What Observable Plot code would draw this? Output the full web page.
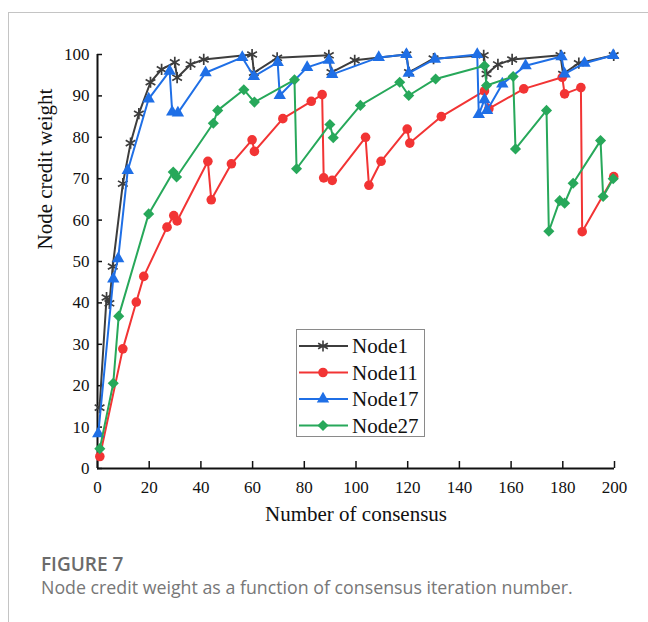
<!DOCTYPE html>
<html><head><meta charset="utf-8">
<script src="https://cdn.jsdelivr.net/npm/d3@7"></script>
<script src="https://cdn.jsdelivr.net/npm/@observablehq/plot@0.6"></script>
<style>
body{margin:0;background:#fff;}
#wrap{position:relative;width:648px;height:622px;overflow:hidden;background:#fff;}
#card{position:absolute;left:8px;top:12px;right:-2px;bottom:-2px;border-top:1px solid #c4c4c4;border-left:1px solid #c4c4c4;}
#chart{position:absolute;left:0;top:0;}
#legend{position:absolute;left:296px;top:329px;}
#fig{position:absolute;left:41px;top:551px;font-family:"Open Sans";font-weight:600;font-size:19px;color:#6b6b6b;}
#cap{position:absolute;left:41px;top:575px;font-family:"Open Sans";font-size:17.8px;color:#777;}
</style></head>
<body>
<div id="wrap">
<div id="card"></div>
<div id="chart"></div>
<div id="legend"></div>
<div id="fig">FIGURE 7</div>
<div id="cap">Node credit weight as a function of consensus iteration number.</div>
</div>
<script>
const seriesNames = ["Node1", "Node11", "Node17", "Node27"];
const node1X = [0.8,3.5,4.6,5.9,9.8,12.8,16,20.5,24.8,29.9,30.8,36,41.1,59.8,60.5,69.5,89.5,90.5,99.5,119.5,120.5,130,149.4,150.5,154.9,160.4,179.1,180.1,186.2,199.7];
const node1Y = [14.7,41.3,39.9,48.8,68.8,78.6,85.7,93.3,96.4,98.1,94.4,97.6,98.8,100,95.6,99.2,99.8,95.7,98.6,100,95.7,99,99.8,95.3,97.6,98.8,99.8,95.3,97.9,99.8];
const node11X = [0.9,9.8,15,17.9,26.9,29.5,30.8,42.7,44,51.8,59.8,60.7,71.7,82.7,86.9,87.5,90.8,103.7,105,109.7,119.8,120.8,133,149.7,151.4,164.9,179.8,180.7,187,187.5,199.7];
const node11Y = [2.9,28.9,40.2,46.4,58.3,61.1,59.8,74.2,64.9,73.6,79.4,76.6,84.5,88.7,90.3,70.2,69.6,80,68.4,74.2,82,78.6,85,91.2,86.9,91.7,94.5,90.5,92,57.2,70.5];
const node17X = [0.3,6.1,8,11.7,19.8,27.9,28.9,31.1,41.8,56,60.5,69.7,70.5,81.1,89.5,90.8,108.8,119.5,120.4,130.5,146.9,147.5,149.7,150.7,156.6,165.6,179.5,180.7,188.4,199.5];
const node17Y = [8.4,45.8,50.7,72,89.3,96,86.1,85.9,95.6,99.3,94.7,98.1,90.1,96.9,98.6,95.2,99.3,100,95.5,98.9,100,85.5,89.1,86.5,92.9,97.3,99.5,95.3,97.9,99.8];
const node27X = [0.9,6.1,8.2,19.8,29.3,30.6,44.8,46.5,56.6,60.7,76.2,77,89.9,91.2,101.7,116.9,120.4,130.8,149.7,150.5,160.8,161.7,173.7,174.6,178.8,180.7,184,194.6,195.6,199.5];
const node27Y = [4.8,20.6,36.8,61.5,71.6,70.4,83.4,86.5,91.5,88.5,93.9,72.4,83.1,79.9,87.7,93.3,90.1,94.1,97.3,92.5,94.7,77.2,86.5,57.3,64.7,64.1,68.9,79.2,65.7,70];
const xTicks = [0,20,40,60,80,100,120,140,160,180,200];
const yTicks = [0,10,20,30,40,50,60,70,80,90,100];
const xLabel = "Number of consensus";
const yLabel = "Node credit weight";

const colors = ["#3d3d3d", "#f23434", "#1f6fe6", "#27a85a"];
const symbols = ["asterisk", "circle", "triangle", "diamond2"];
const filled = [false, true, true, true];
const radii = [5.3, 4.8, 4.6, 5];
const xs = [node1X, node11X, node17X, node27X];
const ys = [node1Y, node11Y, node17Y, node27Y];

const marks = [];
seriesNames.forEach((name, k) => {
  const rows = xs[k].map((x, i) => ({x, y: ys[k][i], name}));
  marks.push(Plot.line(rows, {x: "x", y: "y", stroke: colors[k], strokeWidth: 2}));
  marks.push(Plot.dot(rows, {x: "x", y: "y", symbol: () => symbols[k], r: radii[k],
    fill: filled[k] ? colors[k] : "none", stroke: filled[k] ? "none" : colors[k], strokeWidth: 1.7}));
});

const font = "Liberation Serif";
const chart = Plot.plot({
  width: 648, height: 540,
  marginLeft: 97, marginRight: 34, marginTop: 54, marginBottom: 72,
  style: {fontFamily: font, color: "#111", background: "transparent"},
  x: {domain: [0, 200]},
  y: {domain: [0, 100]},
  marks: [
    Plot.axisX({ticks: xTicks, tickSize: -7, tickPadding: 19, label: null, fontSize: 17, tickFormat: d => d, strokeWidth: 1.5}),
    Plot.axisY({ticks: yTicks, tickSize: -5, tickPadding: 13, label: null, fontSize: 17, tickFormat: d => d, strokeWidth: 1.5}),
    Plot.ruleY([0], {stroke: "#111", strokeWidth: 2}),
    Plot.ruleX([0], {stroke: "#111", strokeWidth: 2}),
    ...marks,
    Plot.text([xLabel], {frameAnchor: "bottom", dy: 52, fontSize: 21, fill: "#111"}),
    Plot.text([yLabel], {frameAnchor: "left", rotate: -90, dx: -52, dy: -12, fontSize: 21, fill: "#111"})
  ]
});
document.getElementById("chart").appendChild(chart);

// legend
const lw = 129, lh = 108;
const lsvg = d3.select("#legend").append("svg").attr("width", lw).attr("height", lh);
lsvg.append("rect").attr("x", 0.5).attr("y", 0.5).attr("width", lw - 1).attr("height", lh - 1)
  .attr("fill", "#fff").attr("stroke", "#8a8a8a").attr("stroke-width", 1);
const symMap = {asterisk: d3.symbolAsterisk, circle: d3.symbolCircle, triangle: d3.symbolTriangle, diamond2: d3.symbolDiamond2};
seriesNames.forEach((name, k) => {
  const cy = 17 + k * 26.5;
  lsvg.append("line").attr("x1", 3).attr("x2", 52).attr("y1", cy).attr("y2", cy)
    .attr("stroke", colors[k]).attr("stroke-width", 2);
  lsvg.append("path").attr("transform", `translate(27,${cy})`)
    .attr("d", d3.symbol(symMap[symbols[k]], Math.PI * radii[k] * radii[k])())
    .attr("fill", filled[k] ? colors[k] : "none").attr("stroke", filled[k] ? "none" : colors[k]).attr("stroke-width", 1.6);
  lsvg.append("text").attr("x", 56).attr("y", cy).attr("dy", "0.35em")
    .attr("font-family", font).attr("font-size", 21).attr("fill", "#111").text(name);
});
</script>
</body></html>
